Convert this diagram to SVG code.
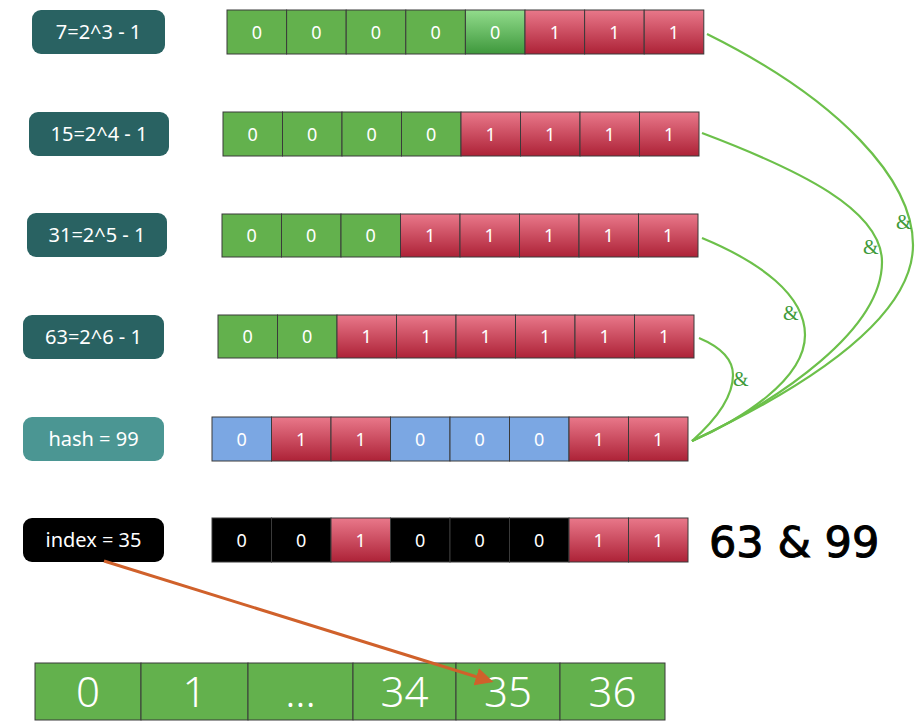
<svg xmlns="http://www.w3.org/2000/svg" width="922" height="726" viewBox="0 0 922 726">
<defs>
<linearGradient id="gRed" x1="0" y1="0" x2="0" y2="1">
<stop offset="0" stop-color="#e9788a"/>
<stop offset="1" stop-color="#ad2237"/>
</linearGradient>
<linearGradient id="gLime" x1="0" y1="0" x2="0" y2="1">
<stop offset="0" stop-color="#92dc8c"/>
<stop offset="1" stop-color="#3e983c"/>
</linearGradient>
<marker id="arr" viewBox="0 0 10 10" refX="8" refY="5" markerWidth="6" markerHeight="6" orient="auto" markerUnits="strokeWidth">
<path d="M0,0 L10,5 L0,10 z" fill="#d0612b"/>
</marker>
<style>
.c{stroke:#3a3a3a;stroke-width:1}
.g{fill:#63b14d}
.G{fill:url(#gLime)}
.r{fill:url(#gRed)}
.b{fill:#7ba7e3}
.k{fill:#000}
.t{font-family:"Noto Sans","Lato",sans-serif;font-size:18px;fill:#fff;text-anchor:middle}
.lb{font-family:"Noto Sans","Lato",sans-serif;font-size:20px;fill:#fff;text-anchor:middle}
.big{font-family:"Noto Sans","Lato",sans-serif;font-size:42px;fill:#fff;text-anchor:middle;font-weight:300}
.teal{fill:#296262}
.curve{fill:none;stroke:#6cc04a;stroke-width:2.2}
.amp{font-family:"Liberation Serif",serif;font-size:20px;fill:#3f9a3a}
</style>
</defs>
<rect width="922" height="726" fill="#fff"/>

<g id="label-7">
<rect x="32" y="10" width="133" height="44" rx="9" class="teal"/>
<text x="98.5" y="39" class="lb">7=2^3 - 1</text>
</g>
<g id="label-15">
<rect x="29" y="112" width="140" height="44" rx="9" class="teal"/>
<text x="99" y="141" class="lb">15=2^4 - 1</text>
</g>
<g id="label-31">
<rect x="27" y="213" width="140" height="44" rx="9" class="teal"/>
<text x="97" y="242" class="lb">31=2^5 - 1</text>
</g>
<g id="label-63">
<rect x="23" y="315" width="141" height="44" rx="9" class="teal"/>
<text x="93.5" y="344" class="lb">63=2^6 - 1</text>
</g>
<g id="label-hash">
<rect x="23" y="417" width="141" height="44" rx="9" fill="#4b9693"/>
<text x="93.5" y="446" class="lb">hash = 99</text>
</g>
<g id="label-index">
<rect x="23" y="518" width="141" height="44" rx="9" fill="#000"/>
<text x="93.5" y="547" class="lb">index = 35</text>
</g>

<g id="row-7">
<rect x="227" y="10" width="59.6" height="44" class="c g"/><text x="256.8" y="38.5" class="t">0</text>
<rect x="286.6" y="10" width="59.6" height="44" class="c g"/><text x="316.4" y="38.5" class="t">0</text>
<rect x="346.2" y="10" width="59.6" height="44" class="c g"/><text x="376" y="38.5" class="t">0</text>
<rect x="405.8" y="10" width="59.6" height="44" class="c g"/><text x="435.6" y="38.5" class="t">0</text>
<rect x="465.4" y="10" width="59.6" height="44" class="c G"/><text x="495.2" y="38.5" class="t">0</text>
<rect x="525" y="10" width="59.6" height="44" class="c r"/><text x="554.8" y="38.5" class="t">1</text>
<rect x="584.6" y="10" width="59.6" height="44" class="c r"/><text x="614.4" y="38.5" class="t">1</text>
<rect x="644.2" y="10" width="59.6" height="44" class="c r"/><text x="674" y="38.5" class="t">1</text>
</g>

<g id="row-15">
<rect x="223" y="112" width="59.5" height="44" class="c g"/><text x="252.75" y="140.5" class="t">0</text>
<rect x="282.5" y="112" width="59.5" height="44" class="c g"/><text x="312.25" y="140.5" class="t">0</text>
<rect x="342" y="112" width="59.5" height="44" class="c g"/><text x="371.75" y="140.5" class="t">0</text>
<rect x="401.5" y="112" width="59.5" height="44" class="c g"/><text x="431.25" y="140.5" class="t">0</text>
<rect x="461" y="112" width="59.5" height="44" class="c r"/><text x="490.75" y="140.5" class="t">1</text>
<rect x="520.5" y="112" width="59.5" height="44" class="c r"/><text x="550.25" y="140.5" class="t">1</text>
<rect x="580" y="112" width="59.5" height="44" class="c r"/><text x="609.75" y="140.5" class="t">1</text>
<rect x="639.5" y="112" width="59.5" height="44" class="c r"/><text x="669.25" y="140.5" class="t">1</text>
</g>

<g id="row-31">
<rect x="222" y="214" width="59.5" height="43" class="c g"/><text x="251.75" y="242" class="t">0</text>
<rect x="281.5" y="214" width="59.5" height="43" class="c g"/><text x="311.25" y="242" class="t">0</text>
<rect x="341" y="214" width="59.5" height="43" class="c g"/><text x="370.75" y="242" class="t">0</text>
<rect x="400.5" y="214" width="59.5" height="43" class="c r"/><text x="430.25" y="242" class="t">1</text>
<rect x="460" y="214" width="59.5" height="43" class="c r"/><text x="489.75" y="242" class="t">1</text>
<rect x="519.5" y="214" width="59.5" height="43" class="c r"/><text x="549.25" y="242" class="t">1</text>
<rect x="579" y="214" width="59.5" height="43" class="c r"/><text x="608.75" y="242" class="t">1</text>
<rect x="638.5" y="214" width="59.5" height="43" class="c r"/><text x="668.25" y="242" class="t">1</text>
</g>

<g id="row-63">
<rect x="218" y="315" width="59.5" height="43" class="c g"/><text x="247.75" y="343" class="t">0</text>
<rect x="277.5" y="315" width="59.5" height="43" class="c g"/><text x="307.25" y="343" class="t">0</text>
<rect x="337" y="315" width="59.5" height="43" class="c r"/><text x="366.75" y="343" class="t">1</text>
<rect x="396.5" y="315" width="59.5" height="43" class="c r"/><text x="426.25" y="343" class="t">1</text>
<rect x="456" y="315" width="59.5" height="43" class="c r"/><text x="485.75" y="343" class="t">1</text>
<rect x="515.5" y="315" width="59.5" height="43" class="c r"/><text x="545.25" y="343" class="t">1</text>
<rect x="575" y="315" width="59.5" height="43" class="c r"/><text x="604.75" y="343" class="t">1</text>
<rect x="634.5" y="315" width="59.5" height="43" class="c r"/><text x="664.25" y="343" class="t">1</text>
</g>

<g id="row-hash">
<rect x="212" y="417" width="59.5" height="44" class="c b"/><text x="241.75" y="445.5" class="t">0</text>
<rect x="271.5" y="417" width="59.5" height="44" class="c r"/><text x="301.25" y="445.5" class="t">1</text>
<rect x="331" y="417" width="59.5" height="44" class="c r"/><text x="360.75" y="445.5" class="t">1</text>
<rect x="390.5" y="417" width="59.5" height="44" class="c b"/><text x="420.25" y="445.5" class="t">0</text>
<rect x="450" y="417" width="59.5" height="44" class="c b"/><text x="479.75" y="445.5" class="t">0</text>
<rect x="509.5" y="417" width="59.5" height="44" class="c b"/><text x="539.25" y="445.5" class="t">0</text>
<rect x="569" y="417" width="59.5" height="44" class="c r"/><text x="598.75" y="445.5" class="t">1</text>
<rect x="628.5" y="417" width="59.5" height="44" class="c r"/><text x="658.25" y="445.5" class="t">1</text>
</g>

<g id="row-index">
<rect x="212" y="518" width="59.5" height="44" class="c k"/><text x="241.75" y="546.5" class="t">0</text>
<rect x="271.5" y="518" width="59.5" height="44" class="c k"/><text x="301.25" y="546.5" class="t">0</text>
<rect x="331" y="518" width="59.5" height="44" class="c r"/><text x="360.75" y="546.5" class="t">1</text>
<rect x="390.5" y="518" width="59.5" height="44" class="c k"/><text x="420.25" y="546.5" class="t">0</text>
<rect x="450" y="518" width="59.5" height="44" class="c k"/><text x="479.75" y="546.5" class="t">0</text>
<rect x="509.5" y="518" width="59.5" height="44" class="c k"/><text x="539.25" y="546.5" class="t">0</text>
<rect x="569" y="518" width="59.5" height="44" class="c r"/><text x="598.75" y="546.5" class="t">1</text>
<rect x="628.5" y="518" width="59.5" height="44" class="c r"/><text x="658.25" y="546.5" class="t">1</text>
</g>

<g id="expr">
<text x="709" y="557" font-family="'DejaVu Sans',sans-serif" font-size="43" fill="#000" stroke="#000" stroke-width="1">63 &amp; 99</text>
</g>

<g id="table">
<rect x="35" y="663" width="106" height="57" class="c g"/><text x="88" y="707" class="big">0</text>
<rect x="141" y="663" width="107" height="57" class="c g"/><text x="194.5" y="707" class="big">1</text>
<rect x="248" y="663" width="105" height="57" class="c g"/><text x="300.5" y="707" class="big">...</text>
<rect x="353" y="663" width="103" height="57" class="c g"/><text x="404.5" y="707" class="big">34</text>
<rect x="456" y="663" width="104" height="57" class="c g"/><text x="508" y="707" class="big">35</text>
<rect x="560" y="663" width="105" height="57" class="c g"/><text x="612.5" y="707" class="big">36</text>
</g>

<g id="connectors">
<path class="curve" d="M707,34 C840,100 913,180 913,245 C913,320 800,390 692,441"/>
<path class="curve" d="M702,133 C800,170 882,210 882,262 C882,330 780,400 692,441"/>
<path class="curve" d="M702,238 C760,262 805,295 805,335 C805,380 740,420 692,441"/>
<path class="curve" d="M699,338 C718,346 733,358 733,375 C733,400 710,425 692,441"/>
<text x="896" y="229" class="amp">&amp;</text>
<text x="863" y="254" class="amp">&amp;</text>
<text x="783" y="320" class="amp">&amp;</text>
<text x="733" y="386" class="amp">&amp;</text>
<path d="M104,561 L490,681" fill="none" stroke="#d0612b" stroke-width="3" marker-end="url(#arr)"/>
</g>
</svg>
